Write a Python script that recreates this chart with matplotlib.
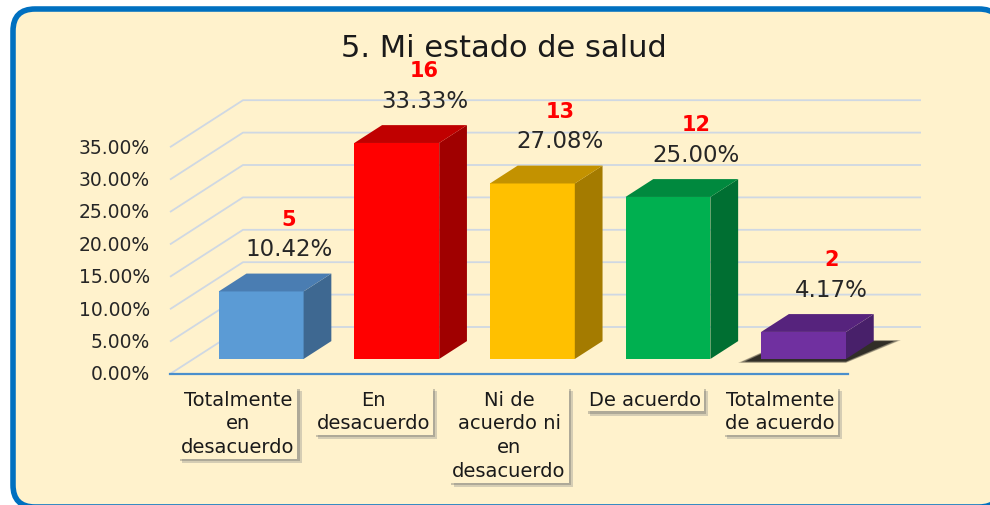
import matplotlib
matplotlib.use("Agg")
import matplotlib.pyplot as plt
from matplotlib.patches import FancyBboxPatch, Polygon
import matplotlib.patheffects as pe

# ---------------- data ----------------
title = "5. Mi estado de salud"
categories = ["Totalmente\nen\ndesacuerdo", "En\ndesacuerdo",
              "Ni de\nacuerdo ni\nen\ndesacuerdo", "De acuerdo",
              "Totalmente\nde acuerdo"]
counts = [5, 16, 13, 12, 2]
percentages = [10.42, 33.33, 27.08, 25.00, 4.17]
tick_values = [0, 5, 10, 15, 20, 25, 30, 35]
tick_labels = ["0.00%", "5.00%", "10.00%", "15.00%", "20.00%", "25.00%",
               "30.00%", "35.00%"]

front_colors = ["#5B9BD5", "#FF0000", "#FFC000", "#00B050", "#7030A0"]
top_colors = ["#4A7DB2", "#C00000", "#C39200", "#00893E", "#56237D"]
side_colors = ["#3E6891", "#A00000", "#A47B00", "#006F32", "#48206A"]
has_shadow = [False, False, False, False, True]

# ---------------- figure ----------------
W, H = 990, 506
fig = plt.figure(figsize=(W / 100, H / 100), dpi=100)
fig.patch.set_facecolor("white")

# background axes in pixel units
bg = fig.add_axes([0, 0, 1, 1])
bg.set_xlim(0, W)
bg.set_ylim(H, 0)
bg.axis("off")
frame = FancyBboxPatch((13, 10), 988, 498,
                       boxstyle="round,pad=0,rounding_size=22",
                       fc="#FFF2CC", ec="#0070C0", lw=4.0, zorder=0)
bg.add_patch(frame)
bg.text(504, 48, title, ha="center", va="center", fontsize=22,
        color="#1a1a1a", family="DejaVu Sans")

# main axes in data units (category, percent) with a pseudo 3-D projection
X0, CAT = 170.0, 135.6      # pixel of x=-0.5, pixels per category
Y0, PPC = 375.0, 6.48       # pixel of 0 %, pixels per percent
ax = fig.add_axes([0, 0, 1, 1])
ax.set_xlim(-0.5 - X0 / CAT, -0.5 + (W - X0) / CAT)
ax.set_ylim(-(H - Y0) / PPC, Y0 / PPC)
ax.axis("off")
ax.patch.set_alpha(0)

DX, DY = 73 / CAT, 47 / PPC   # full depth offset
t0, t1 = 0.32, 0.70            # bar depth span
hw = 0.313                     # bar half-width
n = len(categories)
xl, xr = -0.5, n - 0.5

# gridlines on side and back wall
grid_c = "#CFD8E3"
for v in tick_values:
    ax.plot([xl, xl + DX, xr + DX], [v, v + DY, v + DY], color=grid_c,
            lw=1.3, zorder=1, solid_capstyle="butt")
# front floor edge
ax.plot([xl, xr], [0, 0], color="#4A8FCC", lw=1.6, zorder=2)

# tick labels
for v, lab in zip(tick_values, tick_labels):
    ax.text(xl - 20 / CAT, v, lab, ha="right", va="center", fontsize=13.5,
            color="#262626")

# bars
xs = list(range(n))
xf = [x + t0 * DX for x in xs]
ax.bar(xf, percentages, width=2 * hw, bottom=t0 * DY, color=front_colors,
       edgecolor="none", zorder=5)
for i, v in enumerate(percentages):
    xa, xb = i - hw, i + hw
    if has_shadow[i]:
        for grow, al in [(0.05, 0.25), (0.03, 0.35), (0.0, 0.6)]:
            sh = Polygon([(xa - 0.12 - grow + t0 * DX, t0 * DY - 0.4 - grow * 4),
                          (xb + t0 * DX, t0 * DY - 0.4 - grow * 4),
                          (xb + 0.15 + grow + t1 * DX, t1 * DY + grow * 3),
                          (xa + t1 * DX, t1 * DY + grow * 3)],
                         closed=True, fc="black", ec="none", alpha=al,
                         zorder=3)
            ax.add_patch(sh)
    side = Polygon([(xb + t0 * DX, t0 * DY), (xb + t1 * DX, t1 * DY),
                    (xb + t1 * DX, t1 * DY + v), (xb + t0 * DX, t0 * DY + v)],
                   closed=True, fc=side_colors[i], ec="none", zorder=5)
    top = Polygon([(xa + t0 * DX, t0 * DY + v), (xb + t0 * DX, t0 * DY + v),
                   (xb + t1 * DX, t1 * DY + v), (xa + t1 * DX, t1 * DY + v)],
                  closed=True, fc=top_colors[i], ec="none", zorder=5)
    ax.add_patch(side)
    ax.add_patch(top)
    # data labels
    lx = i + t1 * DX
    ax.text(lx, t1 * DY + v + 25 / PPC, f"{v:.2f}%", ha="center",
            va="center", fontsize=16.5, color="#262626", zorder=8)
    ax.text(lx, t1 * DY + v + 55 / PPC, str(counts[i]), ha="center",
            va="center", fontsize=15, fontweight="bold", color="#FF0000",
            zorder=8)

# category labels in boxes with shadow
for i, lab in enumerate(categories):
    t = ax.text(i, -2.4, lab, ha="center", va="top", fontsize=14,
                color="#1a1a1a", linespacing=1.32, zorder=8,
                bbox=dict(boxstyle="square,pad=0.15", fc="#FFF2CC",
                          ec="none"))
    t.get_bbox_patch().set_path_effects([
        pe.withSimplePatchShadow(offset=(3, -3), shadow_rgbFace="#888888",
                                 alpha=0.35),
        pe.withSimplePatchShadow(offset=(1.5, -1.5), shadow_rgbFace="#666666",
                                 alpha=0.35),
        pe.Normal()])

fig.savefig("out.png", dpi=100, facecolor=fig.get_facecolor())
